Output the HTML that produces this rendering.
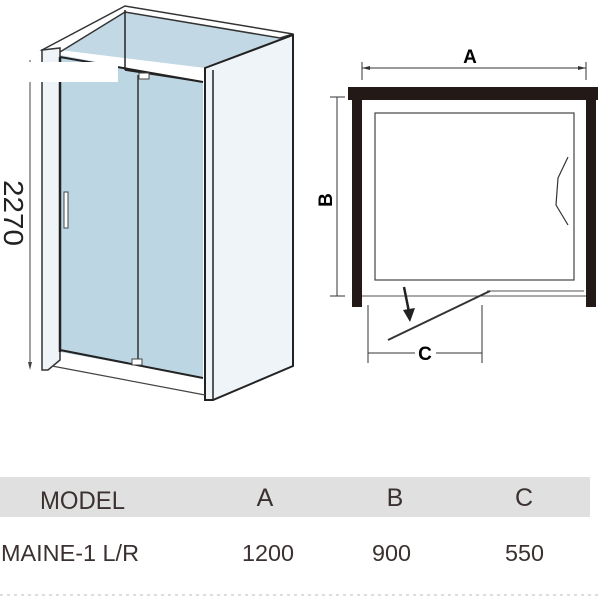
<!DOCTYPE html>
<html><head><style>
body{margin:0;background:#fff;width:600px;height:600px;overflow:hidden;position:relative;font-family:"Liberation Sans",sans-serif}
</style></head><body>
<svg width="600" height="600" style="position:absolute;left:0;top:0" font-family="Liberation Sans, sans-serif">
<!-- left 3D -->
<polygon points="125,6 293,34 293,366 205,400 205,68 60,50" fill="#c2d9e5"/>
<polygon points="60,55 203,82 203,378 60,352" fill="#bcd6e4"/>
<polygon points="42,50 125,6 293,34 280,38 125,12 60,52" fill="#fff" stroke="#333" stroke-width="1.5"/>
<line x1="125" y1="10" x2="125" y2="70" stroke="#222" stroke-width="1.5"/>
<line x1="125" y1="70" x2="203" y2="82" stroke="#222" stroke-width="1.5"/>
<polygon points="205,68 293,35 293,366 213,400 205,400" fill="#eef4f7" stroke="#222" stroke-width="2"/>
<line x1="213" y1="70" x2="213" y2="400" stroke="#222" stroke-width="1.5"/>
<polygon points="42,50 60,48 60,360 48,370 42,370" fill="#eef4f7" stroke="#333" stroke-width="1.5"/>
<line x1="60" y1="57" x2="60" y2="352" stroke="#222" stroke-width="2.5"/>
<line x1="60" y1="57" x2="203" y2="82" stroke="#222" stroke-width="2"/>
<line x1="60" y1="350" x2="203" y2="378" stroke="#222" stroke-width="2"/>
<line x1="52" y1="366" x2="205" y2="395" stroke="#444" stroke-width="1.2"/>
<line x1="138" y1="75" x2="138" y2="362" stroke="#333" stroke-width="1.5"/>
<rect x="132" y="359" width="10" height="6" fill="#fff" stroke="#444"/>
<rect x="139" y="73" width="10" height="6" fill="#fff" stroke="#444"/>
<rect x="64" y="192" width="4" height="36" fill="#fff" stroke="#444"/>
<line x1="30" y1="60" x2="30" y2="368" stroke="#444"/>
<polygon points="28,362 32,362 30,370" fill="#444"/>
<rect x="27" y="62" width="91" height="20" fill="#fff"/>
<text x="0" y="0" transform="translate(4,180) rotate(90)" font-size="28" fill="#222" textLength="66" lengthAdjust="spacingAndGlyphs">2270</text>
<!-- plan -->
<line x1="362" y1="68" x2="586" y2="68" stroke="#333"/>
<line x1="362" y1="62" x2="362" y2="80" stroke="#333"/>
<line x1="586" y1="62" x2="586" y2="80" stroke="#333"/>
<polygon points="362,68 370,66 370,70" fill="#333"/><polygon points="586,68 578,66 578,70" fill="#333"/>
<text x="470" y="63" font-size="19" font-weight="bold" text-anchor="middle">A</text>
<rect x="348" y="87" width="250" height="13" fill="#231a17"/>
<rect x="352" y="87" width="10" height="220" fill="#231a17"/>
<rect x="586" y="87" width="10" height="220" fill="#231a17"/>
<rect x="375" y="113" width="199" height="167" fill="none" stroke="#444" stroke-width="1.2"/>
<polyline points="568,157 558,178 556,205 568,225" fill="none" stroke="#333" stroke-width="1.2"/>
<line x1="337" y1="97" x2="337" y2="296" stroke="#333"/>
<line x1="330" y1="97" x2="345" y2="97" stroke="#333"/><line x1="330" y1="296" x2="345" y2="296" stroke="#333"/>
<text transform="translate(332,200) rotate(-90)" font-size="19" font-weight="bold" text-anchor="middle">B</text>
<line x1="362" y1="296" x2="586" y2="296" stroke="#555"/>
<line x1="487" y1="291" x2="584" y2="291" stroke="#555"/>
<line x1="388" y1="340" x2="490" y2="291" stroke="#333" stroke-width="2"/>
<line x1="404" y1="287" x2="409" y2="312" stroke="#222" stroke-width="2.5"/>
<polygon points="403,310 415,308 410,322" fill="#222"/>
<line x1="368" y1="305" x2="368" y2="363" stroke="#333"/>
<line x1="482" y1="305" x2="482" y2="363" stroke="#333"/>
<line x1="368" y1="353" x2="415" y2="353" stroke="#333"/><line x1="436" y1="353" x2="482" y2="353" stroke="#333"/>
<text x="425" y="360" font-size="19" font-weight="bold" text-anchor="middle">C</text>
<!-- table -->
<rect x="0" y="477" width="590" height="40" fill="#e0e0e0"/>
<g fill="#3a3130">
<text x="40" y="509" font-size="25" textLength="85" lengthAdjust="spacingAndGlyphs">MODEL</text>
<text x="265" y="506" font-size="25" text-anchor="middle">A</text>
<text x="395" y="506" font-size="25" text-anchor="middle">B</text>
<text x="524" y="506" font-size="25" text-anchor="middle">C</text>
<text x="1" y="561" font-size="23" textLength="138" lengthAdjust="spacingAndGlyphs">MAINE-1  L/R</text>
<text x="242" y="561" font-size="23" textLength="52" lengthAdjust="spacingAndGlyphs">1200</text>
<text x="372" y="561" font-size="23" textLength="39" lengthAdjust="spacingAndGlyphs">900</text>
<text x="505" y="561" font-size="23" textLength="39" lengthAdjust="spacingAndGlyphs">550</text>
</g>
<line x1="0" y1="595" x2="600" y2="595" stroke="#bbb" stroke-dasharray="3,4"/>
</svg>
</body></html>
